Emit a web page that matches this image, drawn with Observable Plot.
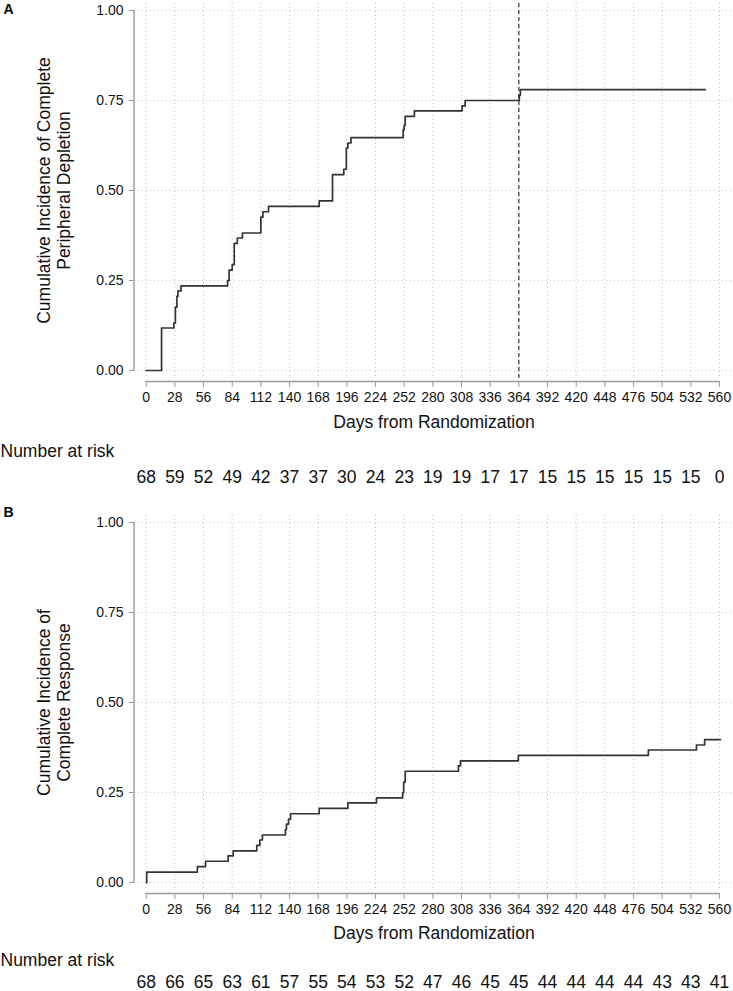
<!DOCTYPE html>
<html><head><meta charset="utf-8">
<script src="https://cdn.jsdelivr.net/npm/d3@7"></script>
<script src="https://cdn.jsdelivr.net/npm/@observablehq/plot@0.6"></script>
<style>
body{margin:0;background:#fff;}
#chart svg{display:block;}
</style></head><body><div id="chart"></div>
<script>
// ---- data ----
const dayTicks = [0,28,56,84,112,140,168,196,224,252,280,308,336,364,392,420,448,476,504,532,560];
const yTicks = [0, 0.25, 0.5, 0.75, 1];

// Panel A: cumulative incidence of complete peripheral depletion (step curve)
const depletionDays = [0,15,27,28.5,30,31,34,79.5,81,84,86,89,94,112,114,119.5,169,182,193,195.5,197,200,251,252,253,262,308.5,311.5,364.5,365.5,546];
const depletionInc  = [0,0.118,0.132,0.176,0.206,0.221,0.235,0.25,0.279,0.294,0.353,0.368,0.382,0.426,0.441,0.456,0.471,0.544,0.559,0.618,0.632,0.647,0.669,0.681,0.706,0.721,0.735,0.75,0.765,0.78,0.78];

// Panel B: cumulative incidence of complete response (step curve)
const responseDays = [0,0.5,50,58,80,85,108,111,113.5,136,137,139,141,169,197,225,250.5,251.5,253,305,307,363.5,490.5,537.5,545.5,561];
const responseInc  = [0,0.029,0.044,0.059,0.074,0.088,0.103,0.118,0.132,0.147,0.162,0.176,0.191,0.206,0.221,0.235,0.25,0.279,0.309,0.324,0.338,0.353,0.368,0.382,0.397,0.397];

const riskA = [68,59,52,49,42,37,37,30,24,23,19,19,17,17,15,15,15,15,15,15,0];
const riskB = [68,66,65,63,61,57,55,54,53,52,47,46,45,45,44,44,44,44,43,43,41];

const censorDay = 364;

// ---- drawing ----
const FONT = "'Liberation Sans', Arial, Helvetica, sans-serif";
const X0 = 145.7, X560 = 719;
const K = (X560 - X0) / 560;
const pxToDay = px => (px - X0) / K;

function panel({letter, letterDy, title, days, inc, risk, onePx, height, dashed, labelDy, narDy, riskDy}) {
  const zeroPx = onePx + 360;
  const axisPx = zeroPx + 11;
  const pxToVal = px => (zeroPx - px) / 360;
  const pts = days.map((d, i) => ({day: d, v: inc[i]}));
  const grid = {stroke: "#c2c2c2", strokeWidth: 1, strokeDasharray: "1,3"};
  const marks = [
    Plot.ruleY(yTicks, {x1: pxToDay(134), x2: pxToDay(733), ...grid}),
    Plot.ruleX(dayTicks, {y1: pxToVal(zeroPx + 6), y2: pxToVal(onePx - 10), ...grid}),
  ];
  if (dashed != null) {
    marks.push(Plot.ruleX([dashed], {y1: pxToVal(zeroPx + 8), y2: pxToVal(onePx - 10), stroke: "#333", strokeWidth: 1.2, strokeDasharray: "4,3"}));
  }
  marks.push(
    Plot.ruleX([pxToDay(133.5)], {y1: 0, y2: 1, stroke: "#9a9a9a", strokeWidth: 1.4}),
    Plot.ruleY([pxToVal(axisPx)], {x1: 0, x2: 560, stroke: "#9a9a9a", strokeWidth: 1.4}),
    Plot.line(pts, {x: "day", y: "v", curve: "step-after", stroke: "#333", strokeWidth: 1.7}),
    Plot.axisY({ticks: yTicks, tickFormat: d3.format(".2f"), tickSize: 5, tickPadding: 6, stroke: "#9a9a9a", fill: "#111", label: null, fontSize: 14}),
    Plot.axisX({ticks: dayTicks, tickFormat: d => String(d), tickSize: 6, tickPadding: 5, stroke: "#9a9a9a", fill: "#111", label: null, fontSize: 14}),
    Plot.text([title], {y: () => 0.5, frameAnchor: "left", dx: -81, rotate: -90, textAnchor: "middle", lineAnchor: "middle", lineHeight: 1.15, fontSize: 17.5, fill: "#111"}),
    Plot.text(["Days from Randomization"], {frameAnchor: "bottom", dy: labelDy, lineAnchor: "middle", fontSize: 17.5, fill: "#111"}),
    Plot.text(["Number at risk"], {frameAnchor: "bottom-left", dx: -134, dy: narDy, textAnchor: "start", lineAnchor: "middle", fontSize: 17.5, fill: "#111"}),
    Plot.text(risk, {x: (d, i) => dayTicks[i], text: d => String(d), frameAnchor: "bottom", dy: riskDy, lineAnchor: "middle", fontSize: 17.5, fill: "#111"}),
    Plot.text([letter], {frameAnchor: "top-left", dx: -131, dy: letterDy, textAnchor: "start", lineAnchor: "top", fontWeight: "bold", fontSize: 14, fill: "#000"})
  );
  return Plot.plot({
    width: 733,
    height,
    marginLeft: 134,
    marginRight: 0,
    marginTop: onePx - 10,
    marginBottom: height - axisPx,
    x: {domain: [0, 560], range: [X0, X560]},
    y: {domain: [0, 1], range: [zeroPx, onePx]},
    style: {fontFamily: FONT, fontSize: "14px", background: "#fff", color: "#000"},
    marks
  });
}

const root = document.getElementById("chart");
root.append(panel({
  letter: "A", letterDy: 4,
  title: "Cumulative Incidence of Complete\nPeripheral Depletion",
  days: depletionDays, inc: depletionInc, risk: riskA,
  onePx: 10, height: 500, dashed: censorDay,
  labelDy: 41, narDy: 70, riskDy: 96
}));
root.append(panel({
  letter: "B", letterDy: -5,
  title: "Cumulative Incidence of\nComplete Response",
  days: responseDays, inc: responseInc, risk: riskB,
  onePx: 22, height: 491, dashed: null,
  labelDy: 40, narDy: 67, riskDy: 89
}));
</script>
</body></html>
